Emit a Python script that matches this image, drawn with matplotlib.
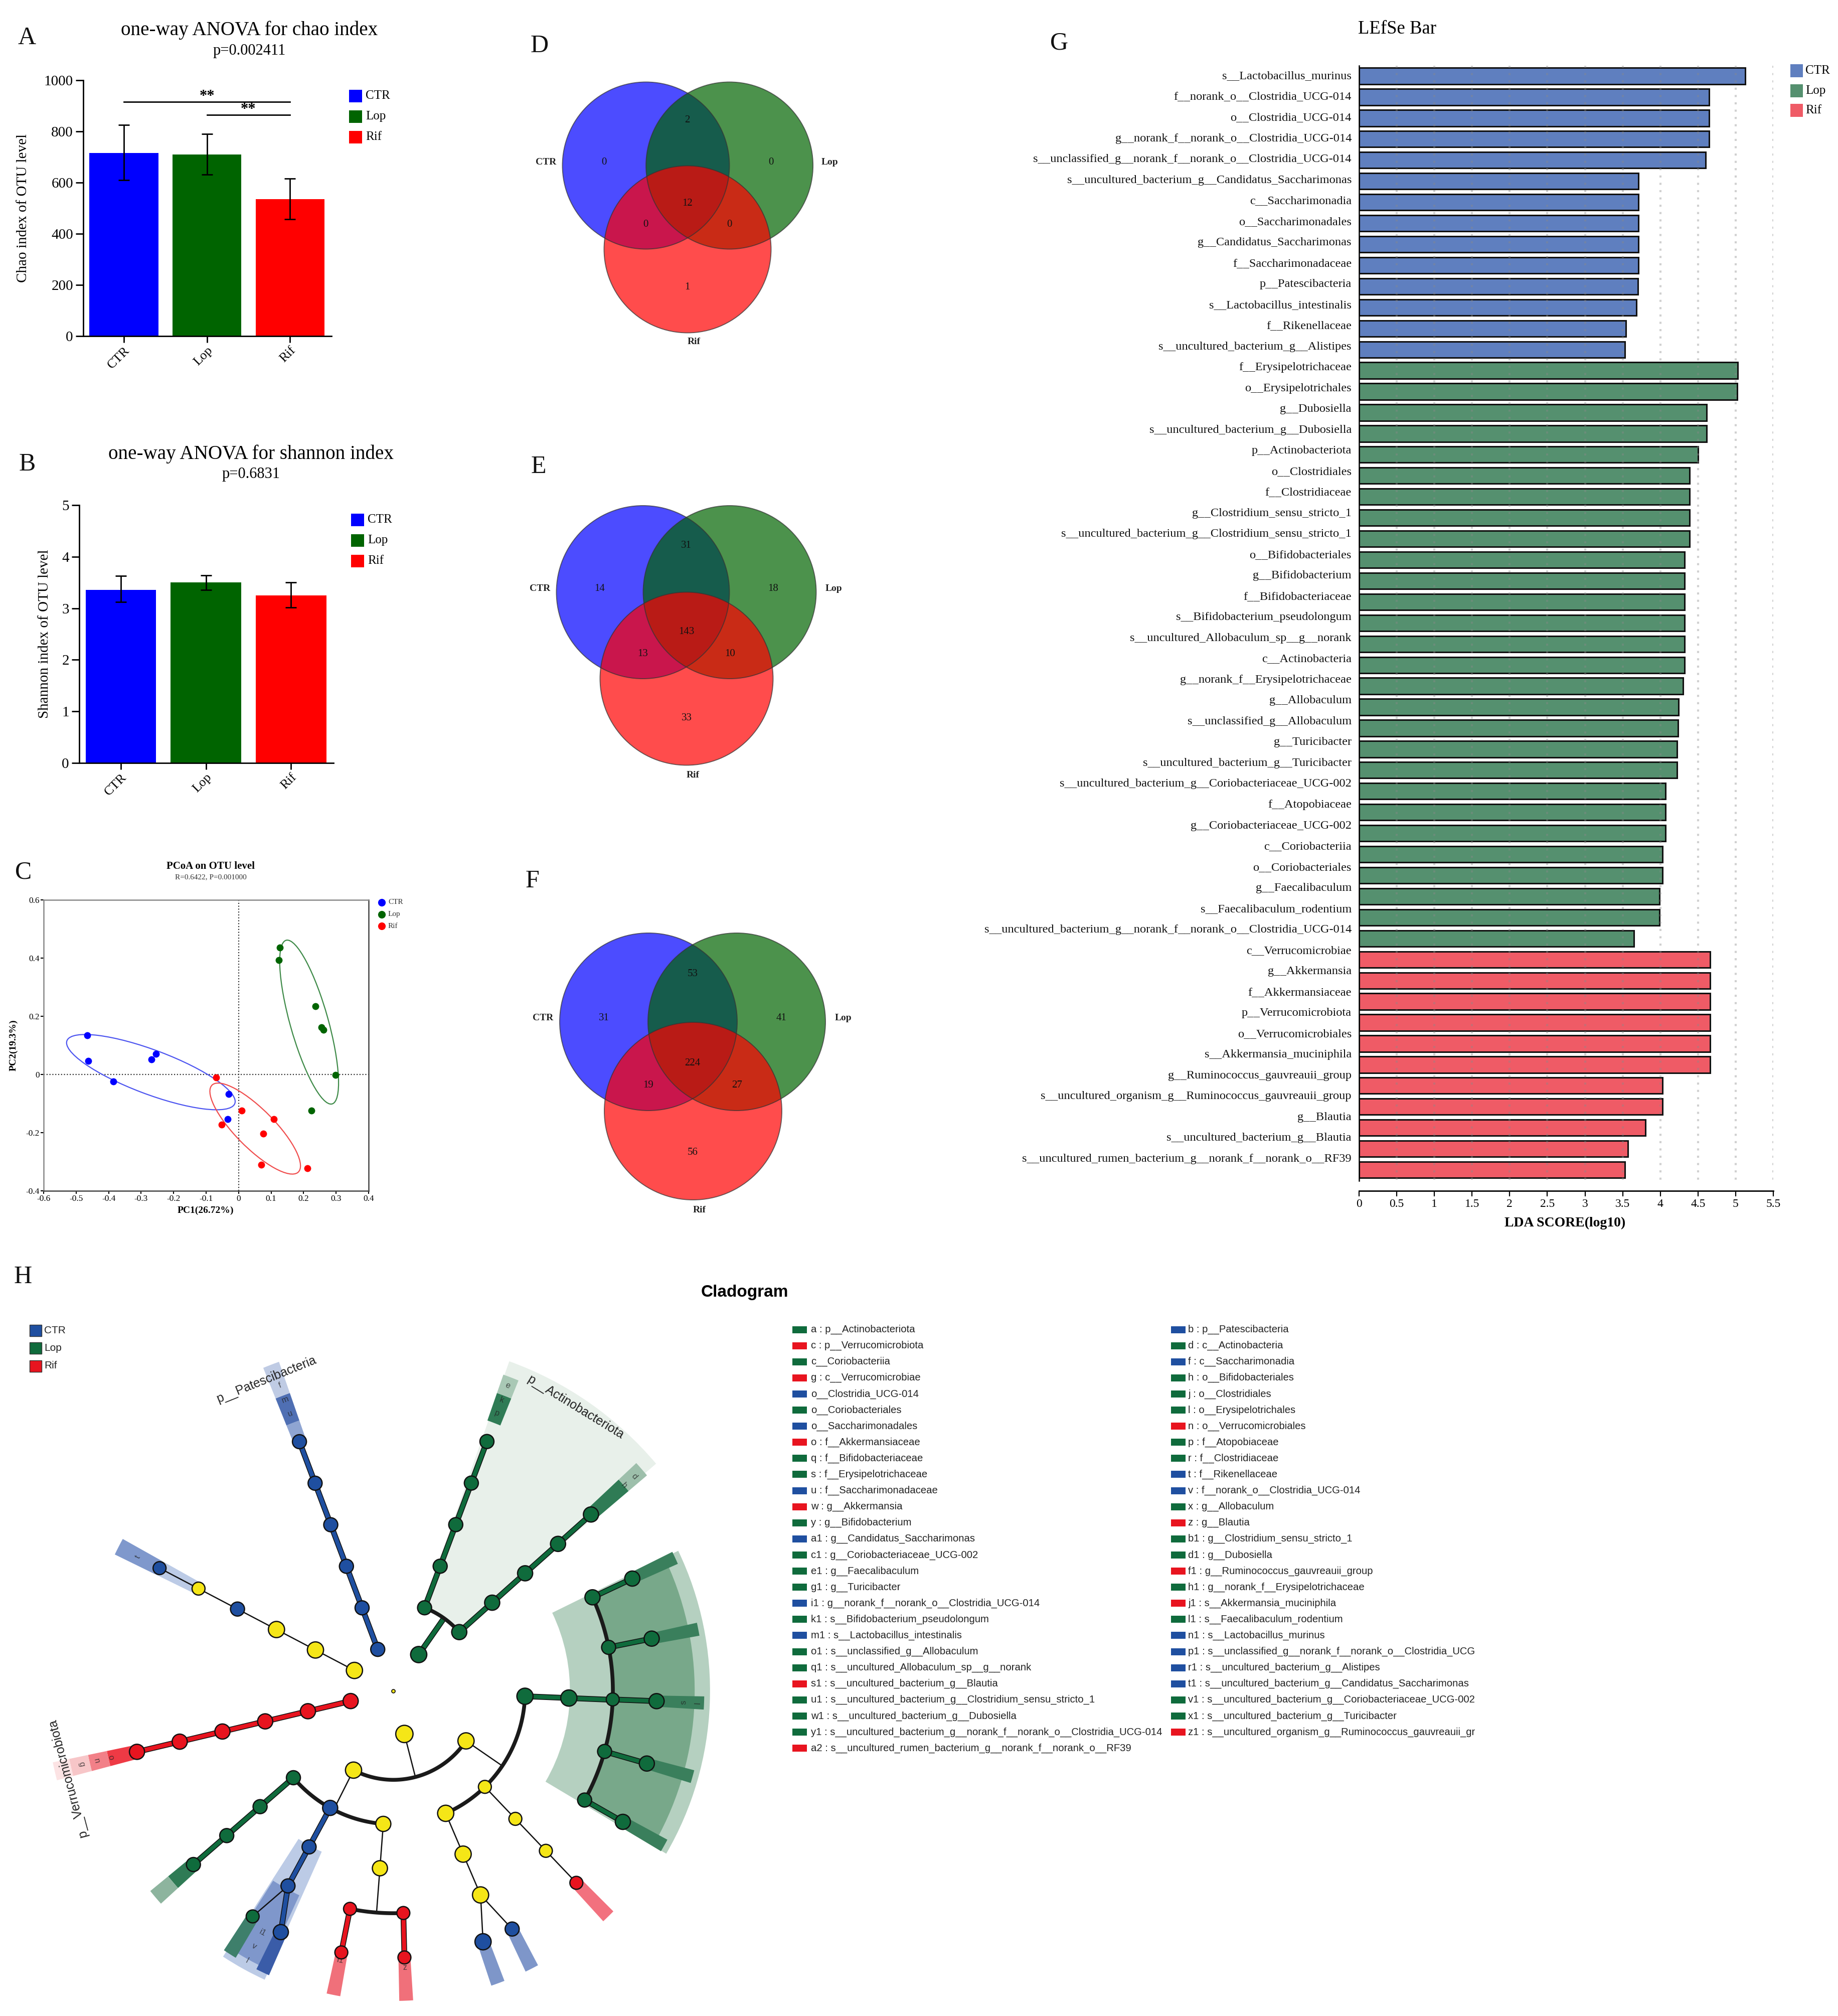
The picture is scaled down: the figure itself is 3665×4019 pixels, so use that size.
#!/usr/bin/env python3
"""Microbiome composite figure: alpha diversity, PCoA, Venn, LEfSe bar and cladogram."""

import numpy as np
import matplotlib
matplotlib.use('Agg')
import matplotlib.pyplot as plt
from matplotlib.patches import Circle, Ellipse, Rectangle, Wedge
from matplotlib.transforms import ScaledTranslation

plt.rcParams['font.family'] = ['Liberation Serif', 'DejaVu Serif']
plt.rcParams['axes.unicode_minus'] = False

W, H = 3666, 4019
SANS = ['Liberation Sans', 'DejaVu Sans']

# --- data -----------------------------------------------------------------
GROUPS = ['CTR', 'Lop', 'Rif']

chao_mean = [715, 710, 535]
chao_low = [610, 632, 457]
chao_high = [825, 790, 615]

shannon_mean = [3.36, 3.50, 3.25]
shannon_low = [3.12, 3.36, 3.02]
shannon_high = [3.63, 3.64, 3.50]

pc1_ctr = [-0.466, -0.462, -0.386, -0.268, -0.255, -0.031, -0.034]
pc2_ctr = [0.135, 0.047, -0.024, 0.052, 0.071, -0.067, -0.154]
pc1_lop = [0.127, 0.124, 0.237, 0.255, 0.261, 0.298, 0.224]
pc2_lop = [0.437, 0.393, 0.234, 0.162, 0.153, -0.001, -0.124]
pc1_rif = [-0.069, 0.009, 0.109, 0.076, -0.052, 0.069, 0.212]
pc2_rif = [-0.011, -0.124, -0.154, -0.204, -0.172, -0.311, -0.322]

# ellipse centre x, centre y, width, height, angle (in PC units)
ell_ctr = (-0.27, 0.008, 0.56, 0.150, -23)
ell_lop = (0.217, 0.18, 0.58, 0.118, -76)
ell_rif = (0.051, -0.186, 0.40, 0.125, -49)

# order: CTR only, CTR&Lop, Lop only, all, CTR&Rif, Lop&Rif, Rif only
venn_d = [0, 2, 0, 12, 0, 0, 1]
venn_e = [14, 31, 18, 143, 13, 10, 33]
venn_f = [31, 53, 41, 224, 19, 27, 56]

lefse_ctr_names = [
    's__Lactobacillus_murinus', 'f__norank_o__Clostridia_UCG-014', 'o__Clostridia_UCG-014',
    'g__norank_f__norank_o__Clostridia_UCG-014', 's__unclassified_g__norank_f__norank_o__Clostridia_UCG-014',
    's__uncultured_bacterium_g__Candidatus_Saccharimonas', 'c__Saccharimonadia', 'o__Saccharimonadales',
    'g__Candidatus_Saccharimonas', 'f__Saccharimonadaceae', 'p__Patescibacteria',
    's__Lactobacillus_intestinalis', 'f__Rikenellaceae', 's__uncultured_bacterium_g__Alistipes']
lefse_ctr_vals = [5.125, 4.646, 4.646, 4.646, 4.60, 3.71, 3.71, 3.71, 3.71, 3.71, 3.70, 3.68, 3.545, 3.53]

lefse_lop_names = [
    'f__Erysipelotrichaceae', 'o__Erysipelotrichales', 'g__Dubosiella', 's__uncultured_bacterium_g__Dubosiella',
    'p__Actinobacteriota', 'o__Clostridiales', 'f__Clostridiaceae', 'g__Clostridium_sensu_stricto_1',
    's__uncultured_bacterium_g__Clostridium_sensu_stricto_1', 'o__Bifidobacteriales', 'g__Bifidobacterium',
    'f__Bifidobacteriaceae', 's__Bifidobacterium_pseudolongum', 's__uncultured_Allobaculum_sp__g__norank',
    'c__Actinobacteria', 'g__norank_f__Erysipelotrichaceae', 'g__Allobaculum', 's__unclassified_g__Allobaculum',
    'g__Turicibacter', 's__uncultured_bacterium_g__Turicibacter',
    's__uncultured_bacterium_g__Coriobacteriaceae_UCG-002', 'f__Atopobiaceae', 'g__Coriobacteriaceae_UCG-002',
    'c__Coriobacteriia', 'o__Coriobacteriales', 'g__Faecalibaculum', 's__Faecalibaculum_rodentium',
    's__uncultured_bacterium_g__norank_f__norank_o__Clostridia_UCG-014']
lefse_lop_vals = [5.03, 5.02, 4.616, 4.616, 4.50, 4.39, 4.39, 4.39, 4.385, 4.32, 4.32, 4.32, 4.32, 4.32,
                  4.32, 4.30, 4.24, 4.235, 4.22, 4.22, 4.07, 4.07, 4.07, 4.03, 4.03, 3.99, 3.99, 3.65]

lefse_rif_names = [
    'c__Verrucomicrobiae', 'g__Akkermansia', 'f__Akkermansiaceae', 'p__Verrucomicrobiota', 'o__Verrucomicrobiales',
    's__Akkermansia_muciniphila', 'g__Ruminococcus_gauvreauii_group',
    's__uncultured_organism_g__Ruminococcus_gauvreauii_group', 'g__Blautia', 's__uncultured_bacterium_g__Blautia',
    's__uncultured_rumen_bacterium_g__norank_f__norank_o__RF39']
lefse_rif_vals = [4.66, 4.66, 4.66, 4.66, 4.66, 4.66, 4.03, 4.03, 3.80, 3.57, 3.53]

lda_ticks = [0, 0.5, 1, 1.5, 2, 2.5, 3, 3.5, 4, 4.5, 5, 5.5]
lda_tick_labels = ['0', '0.5', '1', '1.5', '2', '2.5', '3', '3.5', '4', '4.5', '5', '5.5']

# cladogram: every node has a taxonomic level (ring), an angle and an enriched group (Y = none)
node_level = [1, 2, 3, 4, 5, 6,
              1, 2, 3, 4, 5, 6,
              1, 2, 3, 4, 5, 6, 2, 3, 4, 5, 6,
              1, 2, 3, 4, 5, 6,
              1, 2, 2, 3, 3, 3, 4, 5, 6, 4, 5, 6, 6, 4, 5, 5, 6, 6,
              3, 3, 3, 4, 5, 6, 6, 4, 5, 6, 4, 5, 5, 5, 5, 5, 6, 6, 6, 6, 6]
node_angle = [-110.9] * 6 + [-152.6] * 6 + [-54.8] + [-69.2] * 5 + [-41.4] * 5 + [166.8] * 6 + [
    75.5, 117, 34.2, 139.4, 118.7, 94.4, 139.4, 139.4, 139.4, 118.7, 118.7, 122.3, 115.3, 94.4, 101.4, 87.4,
    101.4, 87.6, 66.6, 46, 2.3, 66.6, 66.6, 70.1, 63.2, 46, 46, 46, 2.3, -24.9, -11.3, 2.2, 15.8, 29.4,
    -24.9, -11.3, 2.2, 15.8, 29.4]
node_group = list('CCCCCC' 'YYYCYC' 'LLLLLLLLLLL' 'RRRRRR'
                  'YYY' 'LCY' 'LLL' 'CC' 'LC' 'Y' 'RRRR'
                  'YYL' 'YY' 'CC' 'YYR' 'L' 'LLLLL' 'LLLLL')
node_parent = [-1, 0, 1, 2, 3, 4,
               -1, 6, 7, 8, 9, 10,
               -1, 12, 13, 14, 15, 16, 12, 18, 19, 20, 21,
               -1, 23, 24, 25, 26, 27,
               -1, 29, 29, 30, 30, 30, 32, 35, 36, 33, 38, 39, 39, 34, 42, 42, 43, 44,
               31, 31, 31, 47, 50, 51, 51, 48, 54, 55, 49, 57, 57, 57, 57, 57, 58, 59, 60, 61, 62]
node_radius = [13] * 6 + [15, 15, 15, 13, 12, 12] + [15] + [13] * 5 + [14] * 5 + [14] * 6 + [
    16, 15, 15, 13, 14, 14, 13, 13, 13, 13, 13, 12, 14, 14, 12, 12, 12, 12,
    15, 12, 15, 15, 15, 15, 13, 12, 12, 12, 15, 14, 13, 12, 13, 13, 14, 14, 14, 14, 14]

clade_names = ['p__Patescibacteria', 'p__Actinobacteriota', 'p__Verrucomicrobiota']

key_col1 = ['a : p__Actinobacteriota', 'c : p__Verrucomicrobiota', 'c__Coriobacteriia', 'g : c__Verrucomicrobiae',
            'o__Clostridia_UCG-014', 'o__Coriobacteriales', 'o__Saccharimonadales', 'o : f__Akkermansiaceae',
            'q : f__Bifidobacteriaceae', 's : f__Erysipelotrichaceae', 'u : f__Saccharimonadaceae',
            'w : g__Akkermansia', 'y : g__Bifidobacterium', 'a1 : g__Candidatus_Saccharimonas',
            'c1 : g__Coriobacteriaceae_UCG-002', 'e1 : g__Faecalibaculum', 'g1 : g__Turicibacter',
            'i1 : g__norank_f__norank_o__Clostridia_UCG-014', 'k1 : s__Bifidobacterium_pseudolongum',
            'm1 : s__Lactobacillus_intestinalis', 'o1 : s__unclassified_g__Allobaculum',
            'q1 : s__uncultured_Allobaculum_sp__g__norank', 's1 : s__uncultured_bacterium_g__Blautia',
            'u1 : s__uncultured_bacterium_g__Clostridium_sensu_stricto_1', 'w1 : s__uncultured_bacterium_g__Dubosiella',
            'y1 : s__uncultured_bacterium_g__norank_f__norank_o__Clostridia_UCG-014',
            'a2 : s__uncultured_rumen_bacterium_g__norank_f__norank_o__RF39']
key_col1_group = list('LRLRCLCRLLCRLCLLLCLCLLRLLLR')
key_col2 = ['b : p__Patescibacteria', 'd : c__Actinobacteria', 'f : c__Saccharimonadia', 'h : o__Bifidobacteriales',
            'j : o__Clostridiales', 'l : o__Erysipelotrichales', 'n : o__Verrucomicrobiales', 'p : f__Atopobiaceae',
            'r : f__Clostridiaceae', 't : f__Rikenellaceae', 'v : f__norank_o__Clostridia_UCG-014',
            'x : g__Allobaculum', 'z : g__Blautia', 'b1 : g__Clostridium_sensu_stricto_1', 'd1 : g__Dubosiella',
            'f1 : g__Ruminococcus_gauvreauii_group', 'h1 : g__norank_f__Erysipelotrichaceae',
            'j1 : s__Akkermansia_muciniphila', 'l1 : s__Faecalibaculum_rodentium', 'n1 : s__Lactobacillus_murinus',
            'p1 : s__unclassified_g__norank_f__norank_o__Clostridia_UCG', 'r1 : s__uncultured_bacterium_g__Alistipes',
            't1 : s__uncultured_bacterium_g__Candidatus_Saccharimonas',
            'v1 : s__uncultured_bacterium_g__Coriobacteriaceae_UCG-002', 'x1 : s__uncultured_bacterium_g__Turicibacter',
            'z1 : s__uncultured_organism_g__Ruminococcus_gauvreauii_gr']
key_col2_group = list('CLCLLLRLLCCLRLLRLRLCCCCLLR')

# --- styles ---------------------------------------------------------------
BAR_COLORS = ['#0000FF', '#006400', '#FF0000']
LEFSE_COLORS = ['#5F7FBF', '#55906F', '#EF5B66']
CLADE_COLORS = {'C': '#1F4FA0', 'L': '#0F6B3C', 'R': '#E8141F', 'Y': '#F5E617'}

fig = plt.figure(figsize=(W / 100, H / 100), dpi=100)


def px_axes(left, top, right, bottom):
    """Axes placed by pixel box of the final image."""
    ax = fig.add_axes([left / W, 1 - bottom / H, (right - left) / W, (bottom - top) / H])
    ax.patch.set_visible(False)
    return ax


page = px_axes(0, 0, W, H)
page.set_xlim(0, W)
page.set_ylim(H, 0)
page.axis('off')

for letter, x, y in [('A', 54, 76), ('B', 54, 926), ('C', 47, 1739), ('D', 1076, 92), ('E', 1074, 931),
                     ('F', 1061, 1757), ('G', 2112, 86), ('H', 46, 2546)]:
    page.text(x, y, letter, fontsize=36, ha='center', va='center', color='#111111')


def bar_panel(box, means, lows, highs, ymax, yticks, ylabel, title, pval, title_xy, legend_xy, ylabel_x):
    ax = px_axes(*box)
    ax.bar(range(3), means, width=0.83, color=BAR_COLORS)
    ax.errorbar(range(3), means, yerr=[np.array(means) - lows, np.array(highs) - means], fmt='none',
                ecolor='black', elinewidth=2, capsize=8, capthick=2)
    ax.set_xlim(-0.49, 2.5)
    ax.set_ylim(0, ymax)
    ax.set_yticks(yticks)
    ax.set_xticks(range(3))
    ax.set_xticklabels(GROUPS, rotation=45, ha='right', rotation_mode='anchor', fontsize=19)
    shift = ScaledTranslation(-7 / 100, 0, fig.dpi_scale_trans)
    for lab in ax.get_xticklabels():
        lab.set_transform(lab.get_transform() + shift)
    ax.tick_params(axis='y', labelsize=21, length=11, width=2)
    ax.tick_params(axis='x', length=9, width=2)
    for side in ['top', 'right']:
        ax.spines[side].set_visible(False)
    for side in ['left', 'bottom']:
        ax.spines[side].set_linewidth(2)
    page.text(ylabel_x, (box[1] + box[3]) / 2 - 0, ylabel, rotation=90, fontsize=21, ha='center', va='center')
    page.text(title_xy[0], title_xy[1], title, fontsize=28.2, ha='center', va='center')
    page.text(title_xy[0] - 0, title_xy[1] + 41, pval, fontsize=22, ha='center', va='center')
    lx, ly = legend_xy
    for k, name in enumerate(GROUPS):
        page.add_patch(Rectangle((lx, ly + k * 41), 26, 25, color=BAR_COLORS[k], lw=0))
        page.text(lx + 33, ly + k * 41 + 12, name, fontsize=18, va='center')
    return ax


ax_a = bar_panel((166, 160, 661, 670), chao_mean, chao_low, chao_high, 1000, range(0, 1001, 200),
                 'Chao index of OTU level', 'one-way ANOVA for chao index', 'p=0.002411', (497, 60), (696, 179), 46)
for x0, x1, y in [(0, 2, 915), (1, 2, 864)]:
    ax_a.plot([x0, x1], [y, y], color='black', lw=2)
    ax_a.text((x0 + x1) / 2, y + 22, '**', fontsize=22, ha='center', va='center', fontweight='bold')

ax_b = bar_panel((158, 1007, 665, 1521), shannon_mean, shannon_low, shannon_high, 5, range(6),
                 'Shannon index of OTU level', 'one-way ANOVA for shannon index', 'p=0.6831', (501, 905), (700, 1024), 89)

# --- PCoA -----------------------------------------------------------------
ax_c = px_axes(87, 1794, 735, 2374)
for xs, ys, ell, col in [(pc1_ctr, pc2_ctr, ell_ctr, '#0000FF'), (pc1_lop, pc2_lop, ell_lop, '#006400'),
                         (pc1_rif, pc2_rif, ell_rif, '#FF0000')]:
    ax_c.scatter(xs, ys, s=100, color=col, zorder=3, linewidths=0)
    edge = {'#006400': '#3E8A48', '#0000FF': '#4D55F0', '#FF0000': '#F04D4D'}[col]
    ax_c.add_patch(Ellipse(ell[:2], ell[2], ell[3], angle=ell[4], fill=False, edgecolor=edge, lw=1.6, zorder=2))
ax_c.axhline(0, color='#333333', ls=(0, (1, 1.6)), lw=1.6, zorder=1)
ax_c.axvline(0, color='#333333', ls=(0, (1, 1.6)), lw=1.6, zorder=1)
ax_c.set_xlim(-0.6, 0.4)
ax_c.set_ylim(-0.4, 0.6)
ax_c.set_xticks(np.round(np.arange(-0.6, 0.41, 0.1), 1))
ax_c.set_xticklabels(['-0.6', '-0.5', '-0.4', '-0.3', '-0.2', '-0.1', '0', '0.1', '0.2', '0.3', '0.4'])
ax_c.set_yticks(np.round(np.arange(-0.4, 0.61, 0.2), 1))
ax_c.set_yticklabels(['-0.4', '-0.2', '0', '0.2', '0.4', '0.6'])
ax_c.tick_params(labelsize=12.5, length=4, width=1.5, pad=2)
ax_c.spines['top'].set_color('#888888')
ax_c.spines['left'].set_color('#888888')
ax_c.spines['right'].set_color('#444444')
ax_c.spines['bottom'].set_color('#444444')
for sp in ax_c.spines.values():
    sp.set_linewidth(1.8)
page.text(420, 1727, 'PCoA on OTU level', fontsize=15, fontweight='bold', ha='center', va='center')
page.text(420, 1749, 'R=0.6422, P=0.001000', fontsize=11, ha='center', va='center', color='#333333')
page.text(410, 2413, 'PC1(26.72%)', fontsize=14, fontweight='bold', ha='center', va='center')
page.text(27, 2084, 'PC2(19.3%)', fontsize=14, fontweight='bold', rotation=90, ha='center', va='center')
for k, name in enumerate(GROUPS):
    page.scatter([761], [1799 + k * 23.5], s=120, color=BAR_COLORS[k], linewidths=0)
    page.text(774, 1799 + k * 23.5, name, fontsize=11, va='center', color='#333333')


# --- Venn -----------------------------------------------------------------
def venn(centres, radius, counts, count_xy, name_xy):
    for (cx, cy), col in zip(centres, BAR_COLORS):
        page.add_patch(Circle((cx, cy), radius, facecolor=col, alpha=0.7, lw=0))
    for (cx, cy) in centres:
        page.add_patch(Circle((cx, cy), radius, fill=False, edgecolor='#333333', alpha=0.7, lw=1.4))
    for val, (x, y) in zip(counts, count_xy):
        page.text(x, y, str(val), fontsize=15, ha='center', va='center', color='#111111')
    for name, (x, y) in zip(GROUPS, name_xy):
        page.text(x, y, name, fontsize=14, ha='center', va='center', color='#222222', fontweight='bold')


venn([(1288, 330), (1454.6, 330), (1371, 497)], 166.5, venn_d,
     [(1204, 323), (1370.5, 239), (1537.5, 323), (1370.5, 406), (1287, 448), (1454, 448), (1370.5, 572.5)],
     [(1089, 323), (1654, 323), (1384, 682)])
venn([(1282, 1180.5), (1455, 1180.5), (1369, 1353)], 172.5, venn_e,
     [(1196, 1173), (1368, 1087), (1542, 1173), (1369, 1259.5), (1282, 1303), (1456, 1303), (1369, 1432)],
     [(1077, 1173), (1662, 1173), (1382, 1545)])
venn([(1293, 2037), (1469, 2037), (1382, 2215)], 177, venn_f,
     [(1204, 2030), (1381, 1941), (1558, 2030), (1381, 2119), (1293, 2163), (1470, 2163), (1381, 2297)],
     [(1083, 2030), (1681, 2030), (1395, 2412.5)])

# --- LEfSe bar ------------------------------------------------------------
ax_g = px_axes(2710, 131, 3536, 2374)
lefse_names = lefse_ctr_names + lefse_lop_names + lefse_rif_names
lefse_vals = lefse_ctr_vals + lefse_lop_vals + lefse_rif_vals
lefse_cols = ([LEFSE_COLORS[0]] * len(lefse_ctr_vals) + [LEFSE_COLORS[1]] * len(lefse_lop_vals)
              + [LEFSE_COLORS[2]] * len(lefse_rif_vals))
pos = np.arange(len(lefse_vals))
ax_g.barh(pos, lefse_vals, height=0.77, color=lefse_cols, edgecolor='#111111', linewidth=2.2, zorder=2)
ax_g.vlines(lda_ticks[1:], -0.49, 52.53, color='#8A8A8A', alpha=0.4, lw=3, linestyles=(0, (1, 2.5)), zorder=3)
ax_g.set_xlim(0, 5.5)
ax_g.set_ylim(53.0, -0.489)
ax_g.set_yticks([])
ax_g.set_xticks(lda_ticks)
ax_g.set_xticklabels(lda_tick_labels)
ax_g.tick_params(axis='x', labelsize=17, length=8, width=1.6)
ax_g.spines['top'].set_visible(False)
ax_g.spines['right'].set_visible(False)
ax_g.spines['left'].set_bounds(-0.489, 52.53)
ax_g.spines['left'].set_linewidth(1.8)
ax_g.spines['bottom'].set_linewidth(2)
for i, name in zip(pos, lefse_names):
    ax_g.text(-0.1, i * 0.99, name, fontsize=17.6, ha='right', va='center', color='#111111')
page.text(3121, 2438, 'LDA SCORE(log10)', fontsize=20, fontweight='bold', ha='center', va='center')
page.text(2786, 58, 'LEfSe Bar', fontsize=26.5, ha='center', va='center')
for k, name in enumerate(GROUPS):
    page.add_patch(Rectangle((3570, 128 + k * 39.5), 25, 26, color=LEFSE_COLORS[k], lw=0))
    page.text(3600, 141 + k * 39.5, name, fontsize=18, va='center')

# --- Cladogram ------------------------------------------------------------
ax_h = px_axes(0, 2500, 1500, 4019)
ax_h.set_xlim(0, 1568)
ax_h.set_ylim(1568, 0)
ax_h.axis('off')
CX, CY, RING = 820, 899, 91.5


def polar(angle, r):
    t = np.deg2rad(angle)
    return CX + r * np.cos(t), CY + r * np.sin(t)


def band(a0, a1, r0, r1, color):
    ax_h.add_patch(Wedge((CX, CY), r1, a0, a1, width=r1 - r0, facecolor=color, lw=0, zorder=1))


def strip(angle, r0, r1, half, color):
    band(angle - half, angle + half, r0, r1, color)


band(-70.4, -40.5, 185, 720, '#E8F0EA')
band(-25.9, 30.5, 368, 660, '#B5D0C0')
band(-24.9, 29.5, 461, 628, '#78A88A')
for a in [-25, -11.3, 2.2, 15.8, 29.4]:
    strip(a, 553, 648, 1.2, '#3A7F5C')
strip(-69.2, 590, 650, 1.4, '#2F7B55')
strip(-69.2, 650, 690, 1.4, '#A9C8B5')
strip(-41.4, 553, 640, 1.4, '#2F7B55')
strip(-41.4, 640, 690, 1.4, '#9DBFAB')
strip(-110.8, 548, 590, 1.4, '#8FA5D2')
strip(-110.8, 590, 650, 1.4, '#4F6FB3')
strip(-110.8, 650, 718, 1.4, '#BFCBE4')
strip(-152.6, 460, 552, 1.6, '#BCCBE6')
strip(-152.6, 552, 645, 1.6, '#7F98CC')
strip(166.8, 548, 610, 1.5, '#EE3A45')
strip(166.8, 610, 650, 1.5, '#F28088')
strip(166.8, 650, 690, 1.5, '#F7C6C8')
strip(166.8, 690, 725, 1.5, '#FCE3E4')
strip(139.4, 550, 605, 1.5, '#2F7B55')
strip(139.4, 605, 653, 1.5, '#8DB49E')
band(114.3, 123, 363, 652, '#BCCBE6')
band(115, 122.7, 464, 630, '#7F97CB')
strip(115.2, 545, 640, 1.3, '#3A5CA8')
strip(122.2, 545, 640, 1.3, '#3E7F6B')
strip(101.3, 549, 638, 1.3, '#F0707A')
strip(87.6, 549, 638, 1.3, '#F0707A')
strip(70.1, 549, 640, 1.3, '#7E96C9')
strip(63.2, 549, 640, 1.3, '#7E96C9')
strip(46, 552, 645, 1.3, '#F2717E')


def thick_edge(xs, ys, group):
    ax_h.plot(xs, ys, color='#111111', lw=8.2, solid_capstyle='butt', zorder=3)
    ax_h.plot(xs, ys, color=CLADE_COLORS[group], lw=6, solid_capstyle='butt', zorder=3.1)


def thin_edge(xs, ys):
    ax_h.plot(xs, ys, color='#111111', lw=1.8, zorder=3)


children = {}
for idx, parent in enumerate(node_parent):
    if parent >= 0:
        children.setdefault(parent, []).append(idx)

for parent, kids in children.items():
    p_group = node_group[parent]
    p_xy = polar(node_angle[parent], node_level[parent] * RING)
    same = p_group != 'Y' and all(node_group[k] == p_group for k in kids)
    if len(kids) == 1 or node_level[kids[0]] == 6:
        for k in kids:
            k_xy = polar(node_angle[k], node_level[k] * RING)
            xs, ys = [p_xy[0], k_xy[0]], [p_xy[1], k_xy[1]]
            if p_group != 'Y' and node_group[k] == p_group:
                thick_edge(xs, ys, p_group)
            else:
                thin_edge(xs, ys)
    else:
        r_arc = node_level[kids[0]] * RING
        angles = [node_angle[k] for k in kids]
        tt = np.linspace(min(angles), max(angles), 80)
        ax, ay = polar(tt, r_arc)
        ax_h.plot(ax, ay, color='#1A1A1A', lw=5.5, zorder=3.2, solid_capstyle='round')
        foot = polar(node_angle[parent], r_arc)
        xs, ys = [p_xy[0], foot[0]], [p_xy[1], foot[1]]
        if same:
            thick_edge(xs, ys, p_group)
        else:
            thin_edge(xs, ys)

nx, ny = polar(np.array(node_angle), np.array(node_level) * RING)
sizes = (2 * 1.12 * np.array(node_radius) / 1.04 * 0.72) ** 2
ax_h.scatter(nx, ny, s=sizes, c=[CLADE_COLORS[g] for g in node_group], edgecolors='#111111', linewidths=1.8, zorder=5)
ax_h.scatter([CX], [CY], s=26, color=CLADE_COLORS['Y'], edgecolors='#111111', linewidths=1.2, zorder=5)

for letter, a, r in [('f', -110.6, 672), ('m', -110.6, 640), ('u', -110.6, 610), ('e', -69.3, 672), ('k', -69.3, 640),
                     ('p', -69.3, 610), ('d', -41.3, 668), ('h', -41.3, 640), ('g', 166.9, 667), ('n', 166.9, 635),
                     ('o', 166.9, 605), ('s', 2.2, 605), ('l', 2.2, 635), ('i1', 118.7, 568), ('v', 118.9, 600),
                     ('l', 118.8, 634), ('z', 87.6, 570), ('f1', 101.3, 565), ('t', -152.6, 600)]:
    lx, ly = polar(a, r)
    rot = (90 - a + 90) % 180 - 90
    ax_h.text(lx, ly, letter, fontsize=12, family=SANS, ha='center', va='center', rotation=rot,
              color='#222222', alpha=0.75, zorder=4)

for name, x, y, rot in zip(clade_names, [555, 1200, 142], [258, 315, 1078], [22, -31.5, 105]):
    ax_h.text(x, y, name, fontsize=18, family=SANS, rotation=rot, ha='center', va='center', color='#222222')

page.text(1485, 2577, 'Cladogram', fontsize=24, fontweight='bold', family=SANS, ha='center', va='center')
for k, name in enumerate(GROUPS):
    page.add_patch(Rectangle((59, 2641 + k * 35.3), 24, 23, facecolor=CLADE_COLORS['CLR'[k]], edgecolor='#333333', lw=1))
    page.text(88, 2652 + k * 35.3, name, fontsize=15, family=SANS, va='center', color='#222222')

for names, groups, x_box, x_text in [(key_col1, key_col1_group, 1580, 1617), (key_col2, key_col2_group, 2335, 2369)]:
    for row, (name, g) in enumerate(zip(names, groups)):
        y = 2650.5 + row * 32.1
        page.add_patch(Rectangle((x_box, y - 7), 29, 14, color=CLADE_COLORS[g], lw=0))
        page.text(x_text, y, name, fontsize=14.6, family=SANS, va='center', color='#222222')

fig.savefig('out.png', dpi=100, facecolor='white')
